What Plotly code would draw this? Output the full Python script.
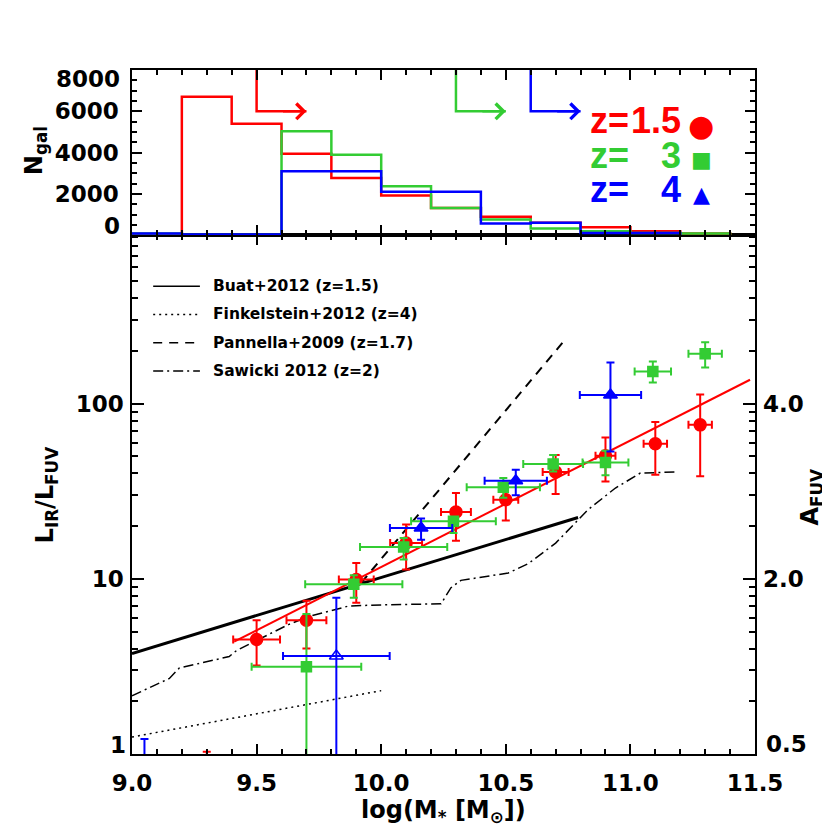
import math
import plotly.graph_objects as go

RED = '#FF0000'
GREEN = '#33CC33'
BLUE = '#0000FF'
FONT = 'DejaVu Sans'
ZFONT = 'Liberation Sans, Arial, sans-serif'

# top panel: number of galaxies per 0.2 dex stellar mass bin
hist_edges = [9.0, 9.2, 9.4, 9.6, 9.8, 10.0, 10.2, 10.4, 10.6, 10.8, 11.0, 11.2, 11.4]
hist_z15 = [0, 6700, 5400, 3940, 2770, 1920, 1320, 890, 600, 390, 190, 80]
hist_z3 = [80, 20, 20, 5030, 3890, 2370, 1320, 760, 320, 190, 110, 80]
hist_z4 = [80, 30, 30, 3100, 3100, 2100, 2100, 565, 600, 110, 110]

# mass completeness limits (arrows in the top panel)
mass_limit = [9.5, 10.3, 10.6]
arrow_top = 8000
arrow_level = 6000
arrow_len = 0.2

# bottom panel: IRX = L_IR/L_FUV stacked in mass bins
z15_mass = [9.30, 9.50, 9.70, 9.90, 10.10, 10.30, 10.50, 10.70, 10.90, 11.10, 11.28]
z15_irx = [0.6, 4.5, 5.8, 9.9, 16.0, 24.1, 28.3, 40.7, 50.4, 59.0, 75.7]
z15_hi = [1.03, 5.8, 7.5, 12.3, 20.4, 30.9, 35.5, 51.0, 64.2, 78.5, 113.0]
z15_lo = [0.3, 3.2, 4.0, 7.3, 11.3, 16.5, 21.5, 30.5, 36.0, 39.3, 38.5]
z15_dm = [0.10, 0.094, 0.08, 0.07, 0.064, 0.06, 0.05, 0.052, 0.04, 0.047, 0.047]

z3_mass = [9.70, 9.89, 10.09, 10.29, 10.49, 10.69, 10.90, 11.09, 11.30]
z3_irx = [3.15, 9.3, 15.2, 21.3, 33.3, 45.2, 46.2, 152.5, 193.0]
z3_hi = [6.3, 10.5, 17.1, 22.0, 37.6, 51.0, 53.8, 174.0, 224.0]
z3_lo = [0.1, 7.8, 12.9, 18.3, 29.0, 41.0, 39.0, 132.0, 161.0]
z3_dm = [0.22, 0.195, 0.175, 0.17, 0.147, 0.12, 0.092, 0.073, 0.067]

z4_mass = [9.05, 10.16, 10.54, 10.92]
z4_irx = [0.7, 19.5, 36.3, 112.0]
z4_hi = [1.22, 22.1, 42.0, 172.0]
z4_lo = [0.3, 16.7, 30.0, 53.4]
z4_dm = [0.0, 0.125, 0.125, 0.123]

z4_open_mass = [9.82]
z4_open_irx = [3.63]
z4_open_hi = [7.8]
z4_open_lo = [0.1]
z4_open_dm = [0.214]

# best fit at z=1.5
fit_mass = [9.41, 11.48]
fit_irx = [4.38, 137.0]

# literature relations
buat_mass = [9.0, 10.79]
buat_irx = [3.75, 22.4]
fink_mass = [9.0, 10.0]
fink_irx = [1.25, 2.3]
pann_mass = [9.92, 10.74]
pann_irx = [9.5, 234.0]
saw_mass = [9.0, 9.15, 9.19, 9.39, 9.42, 9.51, 9.63, 9.71, 9.87, 10.0, 10.24,
            10.28, 10.32, 10.51, 10.59, 10.70, 10.83, 10.94, 11.04, 11.18]
saw_irx = [2.15, 2.7, 3.1, 3.6, 3.9, 4.5, 5.5, 6.1, 7.0, 7.1, 7.2,
           8.9, 9.8, 10.8, 12.2, 16.0, 24.8, 33.0, 40.2, 40.7]

legend_names = ['Buat+2012 (z=1.5)', 'Finkelstein+2012 (z=4)',
                'Pannella+2009 (z=1.7)', 'Sawicki 2012 (z=2)']
legend_dash = ['solid', '2px,4px', '9px,7px', '10px,4px,2px,4px']

# tick labels
mass_ticks = [9.0, 9.5, 10.0, 10.5, 11.0, 11.5]
irx_ticks = [1, 10, 100]
afuv_labels = ['0.5', '2.0', '4.0']
ngal_ticks = [0, 2000, 4000, 6000, 8000]

z_labels = ['1.5', '3', '4']
z_symbols = ['\u25CF', '\u25A0', '\u25B2']
z_sym_size = [30, 22, 22]
z_colors = [RED, GREEN, BLUE]

IRX_RANGE = [0, 2.962]
HIST_SPLIT = 0.7585

fig = go.Figure()

# --- histograms
for counts, col in [(hist_z15, RED), (hist_z3, GREEN), (hist_z4, BLUE)]:
    fig.add_trace(go.Scatter(
        x=hist_edges[:len(counts) + 1], y=counts + [0],
        mode='lines', line=dict(color=col, width=2.5, shape='hv'),
        xaxis='x2', yaxis='y2', showlegend=False, hoverinfo='skip'))

# --- completeness arrows
for m, col in zip(mass_limit, z_colors):
    fig.add_trace(go.Scatter(
        x=[m, m, m + arrow_len], y=[arrow_top, arrow_level, arrow_level],
        mode='lines', line=dict(color=col, width=2.5),
        xaxis='x2', yaxis='y2', showlegend=False, hoverinfo='skip'))
    fig.add_annotation(x=m + arrow_len, y=arrow_level, ax=m + arrow_len / 2, ay=arrow_level,
                       xref='x2', yref='y2', axref='x2', ayref='y2', text='',
                       showarrow=True, arrowhead=4, arrowsize=1.2, arrowwidth=2.5,
                       arrowcolor=col)

# --- literature relations
for xs, ys, dash, w in [(buat_mass, buat_irx, 'solid', 3),
                        (fink_mass, fink_irx, '2px,4px', 1.5),
                        (pann_mass, pann_irx, '9px,7px', 2),
                        (saw_mass, saw_irx, '10px,4px,2px,4px', 1.5)]:
    fig.add_trace(go.Scatter(x=xs, y=ys, mode='lines',
                             line=dict(color='black', width=w, dash=dash),
                             showlegend=False, hoverinfo='skip'))

fig.add_trace(go.Scatter(x=fit_mass, y=fit_irx, mode='lines',
                         line=dict(color=RED, width=2), showlegend=False))


def points(xs, ys, hi, lo, dm, col, symbol, size):
    return go.Scatter(
        x=xs, y=ys, mode='markers',
        marker=dict(color=col, symbol=symbol, size=size, line=dict(color=col, width=1.5)),
        error_y=dict(type='data', symmetric=False,
                     array=[h - v for h, v in zip(hi, ys)],
                     arrayminus=[v - l for v, l in zip(ys, lo)],
                     color=col, thickness=2, width=4),
        error_x=dict(type='data', array=dm, color=col, thickness=2, width=4),
        showlegend=False)


fig.add_trace(points(z15_mass, z15_irx, z15_hi, z15_lo, z15_dm, RED, 'circle', 12))
fig.add_trace(points(z3_mass, z3_irx, z3_hi, z3_lo, z3_dm, GREEN, 'square', 10))
fig.add_trace(points(z4_mass, z4_irx, z4_hi, z4_lo, z4_dm, BLUE, 'triangle-up', 12))
fig.add_trace(points(z4_open_mass, z4_open_irx, z4_open_hi, z4_open_lo, z4_open_dm,
                     BLUE, 'triangle-up-open', 12))

# dummy trace so the right-hand A_FUV axis is drawn
fig.add_trace(go.Scatter(x=[None], y=[None], yaxis='y3', showlegend=False))

# --- legend of the literature lines (drawn by hand)
for i, (name, dash) in enumerate(zip(legend_names, legend_dash)):
    yrow = 0.684 - i * 0.0414
    fig.add_shape(type='line', xref='paper', yref='paper', x0=0.034, x1=0.109,
                  y0=yrow, y1=yrow, line=dict(color='black', width=1.5, dash=dash))
    fig.add_annotation(x=0.127, y=yrow, xref='paper', yref='paper', text=name,
                       showarrow=False, xanchor='left', yanchor='middle',
                       font=dict(size=15.5, family=FONT, weight='bold', color='black'))

# --- redshift labels in the top panel
for i, (zl, sym, col) in enumerate(zip(z_labels, z_symbols, z_colors)):
    yrow = 0.9255 - i * 0.0504
    fig.add_annotation(x=0.732, y=yrow, xref='paper', yref='paper', text='z=',
                       showarrow=False, xanchor='left', yanchor='middle',
                       font=dict(size=36, family=ZFONT, weight='bold', color=col))
    fig.add_annotation(x=0.8844, y=yrow, xref='paper', yref='paper', text=zl,
                       showarrow=False, xanchor='right', yanchor='middle',
                       font=dict(size=36, family=ZFONT, weight='bold', color=col))
    fig.add_annotation(x=0.914, y=yrow - 0.006, xref='paper', yref='paper', text=sym,
                       showarrow=False, xanchor='center', yanchor='middle',
                       font=dict(size=z_sym_size[i], family='DejaVu Sans', color=col))

# --- edge tick labels, nudged inside the frame
tick_font = dict(size=23, family=FONT, weight='bold', color='black')
fig.add_annotation(x=0, y=ngal_ticks[0], xref='paper', yref='y2', text=str(ngal_ticks[0]),
                   showarrow=False, xanchor='right', yanchor='middle', xshift=-10, yshift=9,
                   font=tick_font)
fig.add_annotation(x=0, y=ngal_ticks[-1], xref='paper', yref='y2', text=str(ngal_ticks[-1]),
                   showarrow=False, xanchor='right', yanchor='middle', xshift=-10, yshift=-9,
                   font=tick_font)
fig.add_annotation(x=0, y=math.log10(irx_ticks[0]), xref='paper', yref='y',
                   text=str(irx_ticks[0]), showarrow=False, xanchor='right',
                   yanchor='middle', xshift=-4, yshift=9, font=tick_font)
fig.add_annotation(x=1, y=math.log10(irx_ticks[0]), xref='paper', yref='y',
                   text=afuv_labels[0], showarrow=False, xanchor='left',
                   yanchor='middle', xshift=9, yshift=10, font=tick_font)

# --- axis titles
title_font = dict(size=24, family=FONT, weight='bold', color='black')
fig.add_annotation(x=0.5, y=-0.084, xref='paper', yref='paper',
                   text='log(M<sub>*</sub> [M<sub>\u2299</sub>])', showarrow=False,
                   xanchor='center', yanchor='middle', font=title_font)
fig.add_annotation(x=-0.137, y=0.379, xref='paper', yref='paper',
                   text='L<sub>IR</sub>/L<sub>FUV</sub>', showarrow=False, textangle=-90,
                   xanchor='center', yanchor='middle', font=title_font)
fig.add_annotation(x=-0.155, y=0.882, xref='paper', yref='paper',
                   text='N<sub>gal</sub>', showarrow=False, textangle=-90,
                   xanchor='center', yanchor='middle', font=title_font)
fig.add_annotation(x=1.09, y=0.375, xref='paper', yref='paper',
                   text='A<sub>FUV</sub>', showarrow=False, textangle=-90,
                   xanchor='center', yanchor='middle', font=title_font)

minor_log = [m * 10 ** e for e in range(3) for m in range(2, 10)]
axis_common = dict(showline=True, linecolor='black', linewidth=1.5, showgrid=False,
                   zeroline=False, ticks='inside', tickcolor='black', tickwidth=1.5)

fig.update_layout(
    width=830, height=830,
    margin=dict(l=124, r=83, t=62, b=84),
    paper_bgcolor='white', plot_bgcolor='white',
    showlegend=False,
    xaxis=dict(domain=[0, 1], anchor='y', range=[9.0, 11.5],
               tickvals=mass_ticks, ticktext=[f'{v:.1f}' for v in mass_ticks],
               ticklen=10, mirror='ticks', tickfont=tick_font, ticklabelstandoff=8,
               minor=dict(ticks='inside', dtick=0.1, ticklen=5, tickcolor='black'),
               **axis_common),
    yaxis=dict(domain=[0, HIST_SPLIT], anchor='x', type='log', range=IRX_RANGE,
               tickvals=irx_ticks[1:], ticktext=[str(v) for v in irx_ticks[1:]],
               ticklen=12, mirror='ticks', tickfont=tick_font, ticklabelstandoff=2,
               minor=dict(ticks='inside', tickvals=minor_log, ticklen=6, tickcolor='black'),
               **axis_common),
    yaxis3=dict(overlaying='y', anchor='x', side='right', type='log', range=IRX_RANGE,
                tickvals=irx_ticks[1:], ticktext=afuv_labels[1:], ticks='',
                showline=False, showgrid=False, zeroline=False, tickfont=tick_font,
                ticklabelstandoff=7),
    xaxis2=dict(domain=[0, 1], anchor='y2', range=[9.0, 11.5], showticklabels=False,
                tickvals=mass_ticks, ticklen=10, mirror='ticks',
                minor=dict(ticks='inside', dtick=0.1, ticklen=5, tickcolor='black'),
                **axis_common),
    yaxis2=dict(domain=[HIST_SPLIT, 1], anchor='x2', range=[0, 8000],
                tickvals=ngal_ticks[1:-1], ticktext=[str(v) for v in ngal_ticks[1:-1]],
                ticklen=10, mirror='ticks', tickfont=tick_font, ticklabelstandoff=7,
                minor=dict(ticks='inside', dtick=500, ticklen=5, tickcolor='black'),
                **axis_common),
)

fig.write_html('out.html')
